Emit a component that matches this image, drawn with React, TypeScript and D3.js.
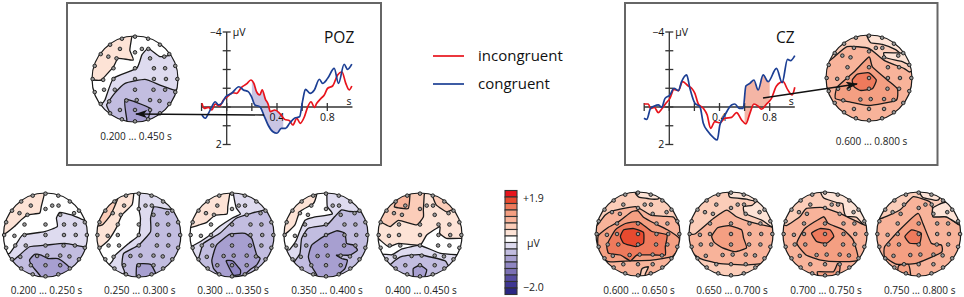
import React from "react";
import * as d3 from "d3";

type Pt = [number, number];
type Layer = [number, Pt[]];

// Shared colour scale, top (+1.9 µV) to bottom (-2.0 µV)
const levelColors = ["#e8141c","#e84a2f","#ee7a5c","#f49f82","#f8b39a","#fbcdb9","#fde3d6","#ffffff","#dedbef","#c2bde0","#a79fd0","#8f86c2","#7b70b3","#564ca0","#3f3793","#2b2784"];

// Waveforms: [seconds, µV]
const pozIncongruent: Pt[] = [[-.197,-.2],[-.179,.07],[-.145,.02],[-.118,.16],[-.092,-.16],[-.058,-.05],[-.026,-.37],[.013,-.59],[.047,-.76],[.079,-.73],[.118,-1.05],[.158,-1.23],[.192,-1.44],[.216,-1.26],[.237,-.82],[.263,-.64],[.282,-.91],[.308,-.41],[.329,-.16],[.347,.25],[.382,.16],[.421,.34],[.461,.66],[.5,.73],[.526,.96],[.558,.6],[.584,.87],[.618,.52],[.645,-.02],[.671,-.28],[.697,.02],[.716,-.2],[.75,-.46],[.776,-.64],[.803,-1],[.842,-1.12],[.882,-1.71],[.916,-1.88],[.947,-1.26],[.974,-.91],[.995,-1.12]];
const pozCongruent: Pt[] = [[-.197,.43],[-.171,.6],[-.145,.34],[-.118,-.02],[-.092,-.28],[-.066,-.11],[-.039,-.2],[-.008,-.55],[.039,-.73],[.097,-1.08],[.132,-.91],[.171,-.82],[.197,-.55],[.224,-.11],[.263,-.02],[.295,.43],[.329,.96],[.368,1.32],[.4,1.4],[.434,1.14],[.468,1.14],[.5,.87],[.539,.6],[.579,.52],[.605,-.37],[.626,-.94],[.663,-.73],[.697,-.91],[.737,-1.48],[.763,-1.26],[.803,-1.53],[.855,-2.06],[.889,-1.26],[.934,-2.28],[.961,-2.01],[.995,-2.29]];
const czIncongruent: Pt[] = [[-.202,-.16],[-.167,-.16],[-.149,.07],[-.119,.02],[-.088,.3],[-.056,.07],[-.027,-.2],[.005,-.46],[.037,-.94],[.072,-.87],[.106,-1.35],[.151,-1.12],[.178,-1],[.204,-.73],[.231,-.16],[.271,.07],[.302,.43],[.329,1.14],[.363,.78],[.403,.84],[.443,.6],[.496,.55],[.536,.3],[.576,.69],[.61,.9],[.642,.34],[.674,-.16],[.708,-.05],[.735,.12],[.775,-.16],[.814,-.46],[.854,-1.12],[.907,-1.35],[.942,-.94],[.979,-.64],[1,-1.05]];
const czCongruent: Pt[] = [[-.202,.6],[-.18,.66],[-.149,.07],[-.119,-.05],[-.088,-.11],[-.061,.02],[-.034,-.46],[.005,-.64],[.037,-1],[.072,-.87],[.098,-1.35],[.138,-1.71],[.164,-1],[.204,-.2],[.244,-.02],[.271,.87],[.31,1.32],[.35,1.62],[.382,1.76],[.403,.96],[.443,.43],[.496,-.11],[.523,-.16],[.557,.07],[.589,.07],[.61,-1.12],[.642,-1.26],[.674,-1.44],[.708,-.91],[.748,-1.71],[.788,-1.35],[.854,-2.06],[.899,-1.3],[.942,-2.54],[.966,-2.47],[1,-2.74]];

const yTicks = [-4,-3,-2,-1,0,1,2];
const xTicks = [-.2,0,.2,.4,.6,.8];
const xLabels = [.4,.8];

// Electrode positions, head-normalised (x right, y down; head radius 1)
const rimAngles = [0,18,36,54,72,90,108,126,144,162,180,198,216,234,252,270,288,306,324,342];
const innerElectrodes: Pt[] = [[-.35,-.7],[.16,-.7],[.31,-.7],[-.62,-.52],[-.43,-.48],[0,-.62],[.35,-.48],[.68,-.52],[-.5,-.25],[0,-.25],[.44,-.25],[.7,-.25],[-.74,.02],[-.5,0],[0,0],[.44,0],[.72,0],[-.72,.25],[-.47,.25],[0,.25],[.43,.25],[.7,.25],[-.6,.52],[-.2,.5],[.04,.49],[.35,.49],[.57,.51],[-.35,.72],[0,.72],[.35,.72]];

// Contour regions: [colour level, outline]; points outside the head are clipped
const map0200: Layer[] = [
  [6,[[-.02,-1],[-.1,-.68],[-.14,-.52],[-.42,-.48],[-.58,-.36],[-.74,-.2],[-.98,-.02],[-1.1,-.1],[-1.1,-1.1],[-.02,-1.1]]],
  [8,[[.9,-.36],[.62,-.48],[.34,-.54],[.26,-.4],[.28,-.2],[-.02,-.08],[-.54,0],[-.66,.16],[-.86,.44],[-1.1,.5],[-1.1,1.1],[1.1,1.1],[1.1,-.36]]],
  [9,[[-.82,.64],[-.62,.48],[-.38,.28],[.02,.24],[.46,.2],[.9,.28],[1.1,.28],[1.1,1.1],[-1.1,1.1],[-1.1,.64]]],
  [10,[[-.26,.46],[-.38,.6],[-.3,.76],[-.12,.98],[-.12,1.1],[.5,1.1],[.58,.8],[.5,.7],[.3,.56],[.06,.56],[-.1,.48]]],
];
const map0250: Layer[] = [
  [6,[[-.12,-.98],[-.16,-.72],[-.4,-.48],[-.52,-.2],[-.72,.12],[-.93,.3],[-1.1,.3],[-1.1,-1.1],[-.12,-1.1]]],
  [5,[[-.5,-.87],[-.67,-.48],[-.87,-.24],[-1.1,-.24],[-1.1,-1.1],[-.5,-1.1]]],
  [8,[[.02,-1],[0,-.63],[.04,-.4],[0,0],[-.24,.2],[-.56,.48],[-.63,.62],[-.75,.75],[-1.1,1.1],[1.1,1.1],[1.1,-1.1],[.02,-1.1]]],
  [9,[[.87,-.6],[.6,-.63],[.36,-.67],[.28,-.4],[.28,-.08],[0,.24],[-.36,.44],[-.4,.71],[-.34,.87],[-.34,1.1],[1.1,1.1],[1.1,-.6]]],
  [10,[[-.04,.7],[.28,.7],[.4,.91],[.4,1.1],[-.04,1.1]]],
];
const map0300: Layer[] = [
  [6,[[-.05,-1],[-.1,-.68],[-.12,-.5],[-.4,-.47],[-.6,-.3],[-.75,-.25],[-.9,-.2],[-1.1,-.2],[-1.1,-1.1],[-.05,-1.1]]],
  [8,[[.03,-1],[.1,-.65],[.2,-.5],[0,-.4],[-.3,-.2],[-.58,.04],[-.92,.25],[-1.1,.3],[-1.1,1.1],[1.1,1.1],[1.1,-1.1],[.03,-1.1]]],
  [9,[[.8,-.6],[.47,-.52],[.1,-.4],[-.29,-.04],[-.68,.2],[-.8,.55],[-1.1,.6],[-1.1,1.1],[1.1,1.1],[1.1,-.6]]],
  [10,[[.31,-.04],[-.05,-.02],[-.37,.24],[-.48,.6],[-.44,.8],[-.33,.93],[-.33,1.1],[.27,1.1],[.27,.99],[.43,.83],[.59,.71],[.67,.56],[.59,.48],[.52,.24],[.47,.08]]],
  [11,[[-.14,.62],[.02,.62],[.2,.83],[.19,.94],[.03,.95]]],
];
const map0350: Layer[] = [
  [6,[[-.22,-.97],[-.3,-.75],[-.62,-.56],[-.74,-.24],[-.95,-.04],[-1.1,-.04],[-1.1,-1.1],[-.22,-1.1]]],
  [8,[[.02,-1],[.03,-.68],[.15,-.5],[-.3,-.42],[-.5,-.35],[-.62,-.1],[-.72,.15],[-.87,.35],[-1.1,.4],[-1.1,1.1],[1.1,1.1],[1.1,-1.1],[.02,-1.1]]],
  [9,[[.85,-.56],[.57,-.56],[.37,-.6],[.21,-.44],[.02,-.24],[-.42,-.16],[-.58,.08],[-.62,.44],[-.78,.67],[-1.1,1.1],[1.1,1.1],[1.1,-.56]]],
  [10,[[.45,-.04],[.25,-.1],[-.06,.04],[-.34,.24],[-.42,.52],[-.34,.75],[-.22,.95],[-.22,1.1],[.29,1.1],[.29,.95],[.45,.8],[.51,.6],[.37,.56],[.25,.48],[.57,.48],[.75,.36],[.65,.24],[.49,.2]]],
];
const map0400: Layer[] = [
  [6,[[-1,.08],[-.75,.28],[-.51,.2],[0,.24],[.16,0],[.47,-.2],[.47,-.04],[.63,.08],[.98,.08],[1.1,.08],[1.1,-1.1],[-1.1,-1.1],[-1.1,.08]]],
  [5,[[-.92,-.3],[-.71,-.2],[-.51,-.35],[-.08,-.24],[.08,-.43],[.08,-.6],[.1,-.95],[.1,-1.1],[-1.1,-1.1],[-1.1,-.3]]],
  [5,[[.31,-.9],[.39,-.71],[.63,-.55],[.75,-.59],[1.1,-.6],[1.1,-1.1],[.31,-1.1]]],
  [4,[[-.55,-.83],[-.61,-.67],[-.28,-.63],[-.24,-.95],[-.24,-1.1],[-.55,-1.1]]],
  [8,[[-.67,.47],[-.43,.33],[0,.25],[.47,.43],[.87,.47],[1.1,.47],[1.1,1.1],[-1.1,1.1],[-1.1,.47]]],
  [9,[[-.67,.67],[-.43,.51],[0,.47],[.59,.61],[.67,.72],[1.1,1.1],[-1.1,1.1]]],
  [10,[[-.16,.94],[-.16,.8],[0,.72],[.16,.83],[.12,.98],[.12,1.1],[-.16,1.1]]],
];
const map0600: Layer[] = [
  [5,[[-1.1,-1.1],[1.1,-1.1],[1.1,1.1],[-1.1,1.1]]],
  [6,[[-.06,-.97],[.02,-.88],[.33,-.83],[.5,-.85],[.55,-1.1],[-.06,-1.1]]],
  [4,[[-.98,-.2],[-.78,-.45],[-.6,-.55],[-.06,-.65],[.3,-.45],[.6,-.42],[.85,-.4],[.98,-.2],[1.1,-.2],[1.1,1.1],[-1.1,1.1],[-1.1,-.2]]],
  [3,[[-.95,.05],[-.72,-.15],[-.45,-.3],[-.15,-.53],[0,-.55],[.13,-.4],[.4,-.25],[.7,-.1],[.98,.1],[.97,.34],[.81,.54],[.33,.62],[-.18,.64],[-.7,.66],[-.94,.46]]],
  [2,[[-.74,.26],[-.54,-.1],[-.3,-.25],[.02,-.29],[.33,-.06],[.69,.02],[.65,.3],[.65,.5],[.41,.5],[-.02,.5],[-.18,.64],[-.42,.5],[-.7,.46]]],
  [1,[[-.42,.06],[-.34,-.1],[-.1,-.13],[.13,-.04],[.13,.22],[-.06,.3],[-.34,.22]]],
  [5,[[.06,.95],[.1,.82],[.25,.78],[.17,.96],[.17,1.1],[.06,1.1]]],
];
const map0650: Layer[] = [
  [5,[[-1.1,-1.1],[1.1,-1.1],[1.1,1.1],[-1.1,1.1]]],
  [6,[[-.06,-.97],[-.02,-.87],[.37,-.83],[.55,-.8],[.6,-1.1],[-.06,-1.1]]],
  [4,[[-.86,0],[-.42,-.37],[-.1,-.57],[.13,-.41],[.45,-.29],[.97,-.17],[1.1,-.17],[1.1,.7],[.81,.7],[.37,.74],[-.3,.7],[-.74,.58],[-1.1,.3],[-1.1,0]]],
  [6,[[.3,-.65],[.33,-.49],[.73,-.33],[.97,-.17],[1.1,-.17],[1.1,-.8],[.65,-.8],[.5,-.68]]],
  [3,[[-.46,.05],[-.32,-.15],[-.05,-.2],[.25,-.1],[.3,.1],[.37,.33],[.1,.42],[-.2,.33],[-.4,.2]]],
];
const map0700: Layer[] = [
  [5,[[-1.1,-1.1],[1.1,-1.1],[1.1,1.1],[-1.1,1.1]]],
  [6,[[-.1,-.98],[-.02,-.85],[.28,-.75],[.42,-.72],[.45,-.55],[.5,-.42],[.75,-.4],[.95,-.18],[1.1,-.18],[1.1,-1.1],[-.1,-1.1]]],
  [4,[[-.92,-.2],[-.6,-.41],[-.44,-.61],[-.04,-.63],[.36,-.49],[.52,-.41],[.95,-.21],[1.1,-.2],[1.1,1.1],[-1.1,1.1],[-1.1,-.2]]],
  [3,[[-.67,.22],[-.48,-.13],[-.04,-.41],[.08,-.25],[.44,-.1],[.67,.14],[.79,.62],[.3,.66],[-.1,.62],[-.45,.5]]],
  [3,[[.3,.7],[.36,.78],[.34,.94],[.34,1.1],[-.1,1.1],[-.18,.9],[.2,.9]]],
  [2,[[-.32,-.02],[-.12,-.13],[.12,-.1],[.21,.06],[.04,.22],[-.2,.18]]],
];
const map0750: Layer[] = [
  [5,[[-1.1,-1.1],[1.1,-1.1],[1.1,1.1],[-1.1,1.1]]],
  [6,[[.02,-1],[.1,-.87],[.42,-.8],[.5,-.85],[.55,-1.1],[.02,-1.1]]],
  [4,[[-.89,-.37],[-.45,-.57],[-.13,-.89],[.26,-.77],[.33,-.61],[.34,-.41],[.66,-.41],[.98,-.21],[1.1,-.2],[1.1,1.1],[-1.1,1.1],[-1.1,-.37]]],
  [6,[[.34,-.62],[.34,-.41],[.66,-.41],[.98,-.21],[1.1,-.2],[1.1,-.8],[.6,-.75]]],
  [3,[[-.81,.3],[-.45,-.1],[-.02,-.49],[.1,-.25],[.3,.22],[.54,.26],[.54,.44],[-.06,.7],[-.53,.72],[-.81,.54]]],
  [2,[[-.33,.06],[-.17,-.1],[.06,-.02],[.02,.22],[-.21,.22]]],
  [3,[[-.48,.76],[-.25,.72],[-.2,.9],[-.2,1.1],[-.5,1.1]]],
];
const mapPoz: Layer[] = [
  [6,[[-1,.02],[-.78,.02],[-.5,-.29],[-.39,-.48],[-.04,-.44],[-.12,-.67],[-.08,-.95],[-.08,-1.1],[-1.1,-1.1],[-1.1,.02]]],
  [8,[[.85,-.56],[.58,-.52],[.31,-.71],[.16,-.56],[.04,-.25],[-.5,-.02],[-.7,.49],[-.78,.57],[-1.1,.6],[-1.1,1.1],[1.1,1.1],[1.1,-.56]]],
  [9,[[.93,.26],[.58,.14],[.23,.01],[-.23,.1],[-.47,.33],[-.66,.6],[-.58,.8],[-.58,1.1],[1.1,1.1],[1.1,.26]]],
  [10,[[-.23,.47],[.35,.68],[.31,.91],[.31,1.1],[-.19,1.1],[-.19,.95]]],
];
const mapCz: Layer[] = [
  [5,[[-1.1,-1.1],[1.1,-1.1],[1.1,1.1],[-1.1,1.1]]],
  [6,[[-.04,-.96],[.04,-.82],[.31,-.78],[.62,-.66],[.78,-.54],[1.1,-.6],[1.1,-1.1],[-.04,-1.1]]],
  [4,[[-.91,-.41],[-.51,-.73],[0,-.69],[.35,-.41],[.82,-.22],[.94,-.14],[1.1,-.14],[1.1,1.1],[-1.1,1.1],[-1.1,-.41]]],
  [6,[[.35,-.59],[.39,-.47],[.74,-.39],[.94,-.31],[1.1,-.31],[1.1,-.6],[.8,-.58]]],
  [3,[[-.78,.48],[-.74,.21],[-.35,-.14],[0,-.49],[.08,-.26],[.43,.05],[.66,.25],[.63,.52],[0,.64],[-.43,.56]]],
  [2,[[-.39,.05],[-.27,-.09],[0,-.12],[.17,.05],[.08,.25],[-.2,.29],[-.35,.2]]],
];

const smallLabels = ["0.200 ... 0.250 s","0.250 ... 0.300 s","0.300 ... 0.350 s","0.350 ... 0.400 s","0.400 ... 0.450 s","0.600 ... 0.650 s","0.650 ... 0.700 s","0.700 ... 0.750 s","0.750 ... 0.800 s"];
const smallMaps = [map0200,map0250,map0300,map0350,map0400,map0600,map0650,map0700,map0750];
const smallCx = [45.5,138.8,232,326,420,638,731,825,918.7];

const FONT = "'Open Sans', sans-serif";
const rimElectrodes: Pt[] = rimAngles.map(a => [Math.cos(a*Math.PI/180)*.985, Math.sin(a*Math.PI/180)*.985]);
const electrodes = [...rimElectrodes, ...innerElectrodes];

function Topo({id,layers,cx,cy,r}:{id:string;layers:Layer[];cx:number;cy:number;r:number}) {
  const sx = d3.scaleLinear().domain([-1,1]).range([cx-r,cx+r]);
  const sy = d3.scaleLinear().domain([-1,1]).range([cy-r,cy+r]);
  const line = d3.line<Pt>().x(d=>sx(d[0])).y(d=>sy(d[1])).curve(d3.curveCardinalClosed.tension(.55));
  return <g>
    <clipPath id={id}><circle cx={cx} cy={cy} r={r}/></clipPath>
    <circle cx={cx} cy={cy} r={r} fill="#fff"/>
    <g clipPath={`url(#${id})`}>
      {layers.map(([lv,pts],i)=><path key={i} d={line(pts)!} fill={levelColors[lv]} stroke="#1a1a1a" strokeWidth={1.3} strokeLinejoin="round"/>)}
    </g>
    <circle cx={cx} cy={cy} r={r} fill="none" stroke="#1a1a1a" strokeWidth={1.2}/>
    {electrodes.map((e,i)=><circle key={i} cx={sx(e[0])} cy={sy(e[1])} r={1.8} fill="#999" stroke="#1a1a1a" strokeWidth={.9}/>)}
  </g>;
}

function Erp({x0,x1,red,blue,win,shade,title,titleX}:{x0:number;x1:number;red:Pt[];blue:Pt[];win:Pt;shade:string;title:string;titleX:number}) {
  const x = d3.scaleLinear().domain([0,.4]).range([x0,x1]);
  const y = d3.scaleLinear().domain([-4,2]).range([32,144.5]);
  const line = d3.line<Pt>().x(d=>x(d[0])).y(d=>y(d[1])).curve(d3.curveMonotoneX);
  const rI = d3.scaleLinear().domain(red.map(d=>d[0])).range(red.map(d=>d[1]));
  const bI = d3.scaleLinear().domain(blue.map(d=>d[0])).range(blue.map(d=>d[1]));
  const times = Array.from(new Set([win[0],...red.map(d=>d[0]),...blue.map(d=>d[0]),win[1]])).filter(t=>t>=win[0]&&t<=win[1]).sort((a,b)=>a-b);
  const area = d3.area<number>().x(t=>x(t)).y0(t=>y(rI(t))).y1(t=>y(bI(t)));
  const c = "#333";
  return <g fontFamily={FONT}>
    <path d={area(times)!} fill={shade}/>
    <line x1={x(0)} x2={x(0)} y1={y(-4)} y2={y(2)} stroke={c} strokeWidth={1.3}/>
    <line x1={x(-.2)} x2={x(1)} y1={y(0)} y2={y(0)} stroke={c} strokeWidth={1.3}/>
    {yTicks.map(t=><line key={t} x1={x(0)-4} x2={x(0)+4} y1={y(t)} y2={y(t)} stroke={c} strokeWidth={1.3}/>)}
    {xTicks.map(t=><line key={t} x1={x(t)} x2={x(t)} y1={y(0)-4} y2={y(0)+4} stroke={c} strokeWidth={1.3}/>)}
    <text x={x(0)-5} y={36} fontSize={10.5} fill="#111" textAnchor="end">−4</text>
    <text x={x(0)+6} y={36} fontSize={10.5} fill="#111">µV</text>
    <text x={x(0)-5} y={148} fontSize={10.5} fill="#111" textAnchor="end">2</text>
    {xLabels.map(t=><text key={t} x={x(t)} y={121} fontSize={10.5} fill="#111" textAnchor="middle">{t}</text>)}
    <text x={x(1)-1} y={105} fontSize={10.5} fill="#111" textAnchor="end">s</text>
    <path d={line(red)!} fill="none" stroke="#e8141c" strokeWidth={1.7}/>
    <path d={line(blue)!} fill="none" stroke="#1c3f94" strokeWidth={1.7}/>
    <text x={titleX} y={43} fontSize={15.5} fill="#111">{title}</text>
  </g>;
}

export default function App() {
  const legend = d3.scaleBand<number>().domain(levelColors.map((_,i)=>i)).range([190.5,294.5]);
  return <svg width={964} height={297} style={{position:"absolute",left:0,top:0,background:"#fff"}}>
    <defs>
      <marker id="ah" markerWidth={12} markerHeight={8} refX={11} refY={4} orient="auto" markerUnits="userSpaceOnUse"><path d="M0,0L12,4L0,8L3,4Z" fill="#111"/></marker>
    </defs>
    <rect x={67} y={3} width={314} height={162} fill="#fff" stroke="#666" strokeWidth={2}/>
    <rect x={625} y={3} width={312.5} height={162} fill="#fff" stroke="#666" strokeWidth={2}/>

    <Erp x0={226.7} x1={277} red={pozIncongruent} blue={pozCongruent} win={[.2,.45]} shade="#c9c5e3" title="POZ" titleX={324}/>
    <Erp x0={669.3} x1={719.5} red={czIncongruent} blue={czCongruent} win={[.6,.8]} shade="#f4b5a5" title="CZ" titleX={776}/>

    <Topo id="poz" layers={mapPoz} cx={135} cy={79} r={43}/>
    <Topo id="cz" layers={mapCz} cx={869} cy={78} r={43}/>
    <line x1={264} y1={115} x2={136} y2={114} stroke="#111" strokeWidth={1.4} markerEnd="url(#ah)"/>
    <line x1={763} y1={98} x2={857} y2={84} stroke="#111" strokeWidth={1.4} markerEnd="url(#ah)"/>
    <text x={136} y={140} fontFamily={FONT} fontSize={10} fill="#222" textAnchor="middle">0.200 ... 0.450 s</text>
    <text x={871.5} y={145} fontFamily={FONT} fontSize={10} fill="#222" textAnchor="middle">0.600 ... 0.800 s</text>

    <line x1={433} x2={464} y1={56} y2={56} stroke="#e8141c" strokeWidth={1.7}/>
    <line x1={433} x2={464} y1={84} y2={84} stroke="#1c3f94" strokeWidth={1.7}/>
    <text x={478} y={61} fontFamily={FONT} fontSize={15} fill="#111">incongruent</text>
    <text x={478} y={89} fontFamily={FONT} fontSize={15} fill="#111">congruent</text>

    {smallMaps.map((m,i)=>{
      const cy = i<5?235:234;
      return <g key={i}>
        <Topo id={`m${i}`} layers={m} cx={smallCx[i]} cy={cy} r={42}/>
        <text x={smallCx[i]+1} y={294} fontFamily={FONT} fontSize={10} fill="#222" textAnchor="middle">{smallLabels[i]}</text>
      </g>;
    })}

    {levelColors.map((c,i)=><rect key={i} x={505} y={legend(i)!} width={12} height={legend.bandwidth()} fill={c} stroke="#333" strokeWidth={1.1}/>)}
    <text x={523} y={202} fontFamily={FONT} fontSize={10.5} fill="#222">+1.9</text>
    <text x={527} y={247} fontFamily={FONT} fontSize={10.5} fill="#222">µV</text>
    <text x={523} y={291} fontFamily={FONT} fontSize={10.5} fill="#222">−2.0</text>
  </svg>;
}
